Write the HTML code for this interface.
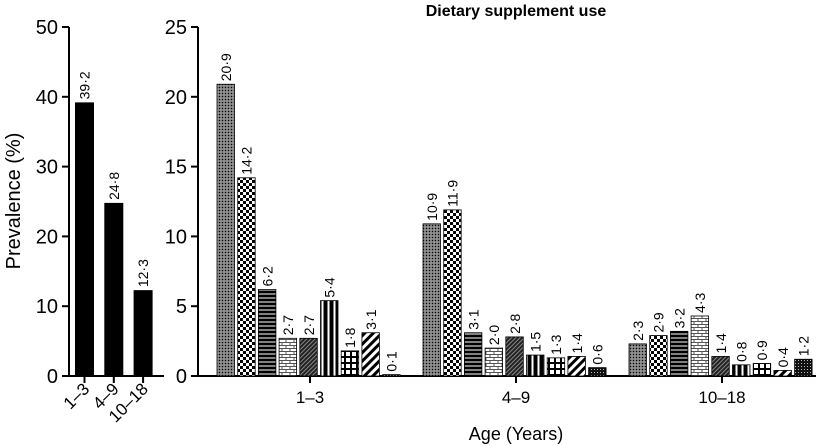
<!DOCTYPE html>
<html><head><meta charset="utf-8"><style>
body{margin:0;background:#fff}
svg{display:block;font-family:"Liberation Sans",Arial,sans-serif}
</style></head><body>
<svg id="c" width="825" height="446" viewBox="0 0 825 446">
<defs>
<pattern id="p0" width="3" height="3" patternUnits="userSpaceOnUse"><rect width="3" height="3" fill="#777"/><rect width="1" height="1" fill="#000"/><rect x="1.5" y="1.5" width="1" height="1" fill="#ddd"/></pattern>
<pattern id="p1" width="6" height="6" patternUnits="userSpaceOnUse"><rect width="6" height="6" fill="#fff"/><rect width="3" height="3" fill="#000"/><rect x="3" y="3" width="3" height="3" fill="#000"/></pattern>
<pattern id="p2" width="4" height="4" patternUnits="userSpaceOnUse"><rect width="4" height="4" fill="#000"/><rect y="1.5" width="4" height="1" fill="#fff"/></pattern>
<pattern id="p3" width="8" height="6" patternUnits="userSpaceOnUse"><rect width="8" height="6" fill="#fff"/><path d="M0 0.5H8M0 3.5H8M2 0.5V3.5M6 3.5V6" stroke="#555" stroke-width="1" fill="none"/></pattern>
<pattern id="p4" width="3" height="3" patternUnits="userSpaceOnUse" patternTransform="rotate(45)"><rect width="3" height="3" fill="#222"/><rect width="1" height="3" fill="#888"/></pattern>
<pattern id="p5" width="6" height="6" patternUnits="userSpaceOnUse"><rect width="6" height="6" fill="#000"/><rect x="3.5" width="2" height="6" fill="#fff"/></pattern>
<pattern id="p6" width="6" height="6" patternUnits="userSpaceOnUse"><rect width="6" height="6" fill="#fff"/><rect x="2" width="2" height="6" fill="#000"/><rect y="2" width="6" height="2" fill="#000"/></pattern>
<pattern id="p7" width="6" height="6" patternUnits="userSpaceOnUse" patternTransform="rotate(45)"><rect width="6" height="6" fill="#fff"/><rect width="3" height="6" fill="#000"/></pattern>
<pattern id="p8" width="3" height="3" patternUnits="userSpaceOnUse"><rect width="3" height="3" fill="#111"/><rect width="1" height="1" fill="#bbb"/></pattern>
</defs>
<g id="g"></g>
</svg>
<script>
const leftCats = ['1–3','4–9','10–18'];
const leftVals = [39.2, 24.8, 12.3];
const leftLabels = ['39·2','24·8','12·3'];
const leftTicks = [0,10,20,30,40,50];
const groups = ['1–3','4–9','10–18'];
const g1 = [20.9,14.2,6.2,2.7,2.7,5.4,1.8,3.1,0.1];
const g2 = [10.9,11.9,3.1,2.0,2.8,1.5,1.3,1.4,0.6];
const g3 = [2.3,2.9,3.2,4.3,1.4,0.8,0.9,0.4,1.2];
const rightTicks = [0,5,10,15,20,25];

const NS='http://www.w3.org/2000/svg';
const G=document.getElementById('g');
function mk(t,a,txt){const e=document.createElementNS(NS,t);for(const k in a)e.setAttribute(k,a[k]);if(txt!=null)e.textContent=txt;G.appendChild(e);return e;}
function fmt(v){return v.toFixed(1).replace('.','·');}

const y0=376, yTop=27;
const yL=v=>y0-(v/50)*(y0-yTop);
const yR=v=>y0-(v/25)*(y0-yTop);

let e=mk('line',{x1:69,y1:yTop,x2:69,y2:y0+1,stroke:'#000','stroke-width':2});


e=mk('line',{x1:68,y1:y0,x2:164,y2:y0,stroke:'#000','stroke-width':2});


leftTicks.forEach(t=>{
  const y=yL(t);
  e=mk('line',{x1:62,y1:y,x2:69,y2:y,stroke:'#000','stroke-width':2});
  
  
  e=mk('text',{x:58,y:y+7,'text-anchor':'end','font-size':20},t);
  
  
});
leftCats.forEach((c,i)=>{
  const cx=84.5+i*29.3, v=leftVals[i];
  e=mk('rect',{x:cx-9.5,y:yL(v),width:19,height:y0-yL(v),fill:'#000'});
  
  
  e=mk('text',{x:0,y:0,'font-size':14,transform:`translate(${cx+5},${yL(v)-3}) rotate(-90)`},leftLabels[i]);
  
  
  e=mk('line',{x1:cx,y1:y0,x2:cx,y2:y0+7,stroke:'#000','stroke-width':2});
  
  
  e=mk('text',{x:0,y:0,'font-size':17,'text-anchor':'end',transform:`translate(${cx+6},${y0+14}) rotate(-45)`},c);
  
  
});
e=mk('text',{x:0,y:0,'font-size':20,'text-anchor':'middle',transform:'translate(20,201) rotate(-90)'},'Prevalence (%)');



e=mk('line',{x1:198,y1:yTop,x2:198,y2:y0+1,stroke:'#000','stroke-width':2});


e=mk('line',{x1:197,y1:y0,x2:816,y2:y0,stroke:'#000','stroke-width':2});


rightTicks.forEach(t=>{
  const y=yR(t);
  e=mk('line',{x1:191,y1:y,x2:198,y2:y,stroke:'#000','stroke-width':2});
  
  
  e=mk('text',{x:187,y:y+7,'text-anchor':'end','font-size':20},t);
  
  
});
[g1,g2,g3].forEach((vals,gi)=>{
  const gx=217+gi*206;
  vals.forEach((v,i)=>{
    const x=gx+i*20.7;
    e=mk('rect',{x:x,y:yR(v),width:17.5,height:y0-yR(v),fill:`url(#p${i})`,stroke:'#000','stroke-width':0.8});
    
    
    e=mk('text',{x:0,y:0,'font-size':14,transform:`translate(${x+14},${yR(v)-3}) rotate(-90)`},fmt(v));
    
    
  });
  const cx=gx+93;
  e=mk('line',{x1:cx,y1:y0,x2:cx,y2:y0+7,stroke:'#000','stroke-width':2});
  
  
  e=mk('text',{x:cx,y:y0+27,'text-anchor':'middle','font-size':17},groups[gi]);
  
  
});
e=mk('text',{x:516,y:16,'text-anchor':'middle','font-size':16,'font-weight':'bold'},'Dietary supplement use');


e=mk('text',{x:516,y:440,'text-anchor':'middle','font-size':18},'Age (Years)');


</script>
</body></html>
